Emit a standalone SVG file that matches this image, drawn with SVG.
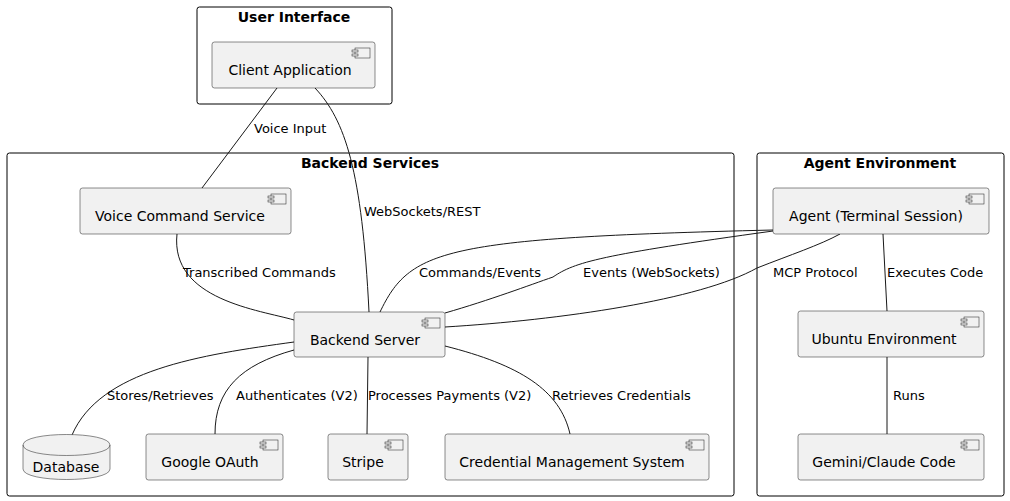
<svg xmlns="http://www.w3.org/2000/svg" width="1010" height="501" viewBox="0 0 1010 501">
<style>
.frame{fill:none;stroke:#000;stroke-width:1}
.ftitle{font-family:"DejaVu Sans",sans-serif;font-size:14px;font-weight:bold;fill:#000;text-anchor:middle}
.node{fill:#F1F1F1;stroke:#181818;stroke-width:0.5}
.ntext{font-family:"DejaVu Sans",sans-serif;font-size:14px;fill:#000;text-anchor:middle}
.edge{fill:none;stroke:#181818;stroke-width:1}
.lbl{font-family:"DejaVu Sans",sans-serif;font-size:13px;fill:#000}
.icon{fill:#F1F1F1;stroke:#181818;stroke-width:0.5}
</style>
<defs>
<g id="cicon">
<rect class="icon" x="-15" y="0" width="15" height="10"/>
<rect class="icon" x="-18" y="2" width="6" height="2"/>
<rect class="icon" x="-18" y="6" width="6" height="2"/>
</g>
</defs>
<g id="ui-frame">
<rect class="frame" x="197" y="7" width="195" height="97" rx="2.5"/>
<text class="ftitle" x="294" y="22">User Interface</text>
</g>
<g id="backend-frame">
<rect class="frame" x="7" y="153" width="727" height="343" rx="2.5"/>
<text class="ftitle" x="370" y="168">Backend Services</text>
</g>
<g id="agent-frame">
<rect class="frame" x="757" y="153" width="247" height="343" rx="2.5"/>
<text class="ftitle" x="880" y="168">Agent Environment</text>
</g>
<g id="connectors">
<path class="edge" d="M277,88 L202,188"/>
<text class="lbl" x="254" y="133">Voice Input</text>
<path class="edge" d="M315,88 C345,120 362,170 369,312"/>
<text class="lbl" x="364" y="216">WebSockets/REST</text>
<path class="edge" d="M177,234 C170,300 260,310 294,320"/>
<text class="lbl" x="183" y="277">Transcribed Commands</text>
<path class="edge" d="M380,312 C410,250 440,238 773,230"/>
<text class="lbl" x="419" y="277">Commands/Events</text>
<path class="edge" d="M445,313 C490,300 530,285 553,277 C575,262 600,255 773,231"/>
<text class="lbl" x="583" y="277">Events (WebSockets)</text>
<path class="edge" d="M445,327 C560,320 700,300 757,268 C790,255 820,245 840,234"/>
<text class="lbl" x="773" y="277">MCP Protocol</text>
<path class="edge" d="M883,234 L887,311"/>
<text class="lbl" x="887" y="277">Executes Code</text>
<path class="edge" d="M887,357 L887,434"/>
<text class="lbl" x="893" y="400">Runs</text>
<path class="edge" d="M294,342 C200,355 100,370 72,435"/>
<text class="lbl" x="107" y="400">Stores/Retrieves</text>
<path class="edge" d="M294,350 C240,365 215,390 215,434"/>
<text class="lbl" x="236" y="400">Authenticates (V2)</text>
<path class="edge" d="M368,357 L367,434"/>
<text class="lbl" x="368" y="400">Processes Payments (V2)</text>
<path class="edge" d="M445,346 C520,365 560,390 570,434"/>
<text class="lbl" x="552" y="400">Retrieves Credentials</text>
</g>
<g id="client-app">
<rect class="node" x="212" y="42" width="163" height="46" rx="2.5"/>
<use href="#cicon" x="370" y="48"/>
<text class="ntext" x="290" y="75">Client Application</text>
</g>
<g id="voice-service">
<rect class="node" x="80" y="188" width="211" height="46" rx="2.5"/>
<use href="#cicon" x="286" y="194"/>
<text class="ntext" x="180" y="221">Voice Command Service</text>
</g>
<g id="backend-server">
<rect class="node" x="294" y="312" width="151" height="45" rx="2.5"/>
<use href="#cicon" x="440" y="318"/>
<text class="ntext" x="365" y="345">Backend Server</text>
</g>
<g id="database">
<path class="node" d="M23,445 C23,431 110,431 110,445 L110,469 C110,483 23,483 23,469 Z"/>
<path class="edge" style="stroke-width:0.5" d="M23,445 C23,459 110,459 110,445"/>
<text class="ntext" x="66" y="472">Database</text>
</g>
<g id="google-oauth">
<rect class="node" x="146" y="434" width="137" height="46" rx="2.5"/>
<use href="#cicon" x="278" y="440"/>
<text class="ntext" x="210" y="467">Google OAuth</text>
</g>
<g id="stripe">
<rect class="node" x="328" y="434" width="80" height="46" rx="2.5"/>
<use href="#cicon" x="403" y="440"/>
<text class="ntext" x="363" y="467">Stripe</text>
</g>
<g id="credential-mgmt">
<rect class="node" x="445" y="434" width="264" height="46" rx="2.5"/>
<use href="#cicon" x="704" y="440"/>
<text class="ntext" x="572" y="467">Credential Management System</text>
</g>
<g id="agent">
<rect class="node" x="773" y="188" width="216" height="46" rx="2.5"/>
<use href="#cicon" x="984" y="194"/>
<text class="ntext" x="876" y="221">Agent (Terminal Session)</text>
</g>
<g id="ubuntu">
<rect class="node" x="798" y="311" width="186" height="46" rx="2.5"/>
<use href="#cicon" x="979" y="317"/>
<text class="ntext" x="884" y="344">Ubuntu Environment</text>
</g>
<g id="gemini">
<rect class="node" x="798" y="434" width="186" height="46" rx="2.5"/>
<use href="#cicon" x="979" y="440"/>
<text class="ntext" x="884" y="467">Gemini/Claude Code</text>
</g>
</svg>
